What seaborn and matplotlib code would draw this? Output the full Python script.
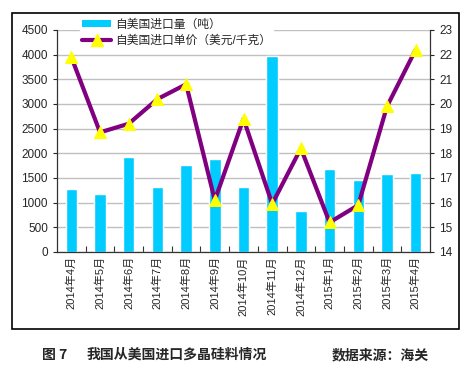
import matplotlib
matplotlib.use("Agg")
import matplotlib.pyplot as plt
import seaborn as sns
import pandas as pd
from matplotlib.patches import Rectangle, Patch
from matplotlib.lines import Line2D
from matplotlib.ticker import MultipleLocator, FixedLocator

sns.set_style("white")
plt.rcParams['font.family'] = ['Liberation Sans', 'Noto Sans CJK SC']

# data
months = ['2014年4月', '2014年5月', '2014年6月', '2014年7月', '2014年8月', '2014年9月',
          '2014年10月', '2014年11月', '2014年12月', '2015年1月', '2015年2月',
          '2015年3月', '2015年4月']
volume = [1270, 1180, 1930, 1315, 1755, 1880, 1312, 3965, 836, 1686, 1450, 1572, 1592]
price = [21.9, 18.85, 19.2, 20.2, 20.8, 16.1, 19.4, 15.95, 18.2, 15.2, 15.9, 19.9, 22.2]
vol_label = '自美国进口量（吨）'
price_label = '自美国进口单价（美元/千克）'

df = pd.DataFrame({'month': months, 'volume': volume, 'price': price})

fig = plt.figure(figsize=(4.66, 3.82), dpi=100)
ax = fig.add_axes([57/466, 1-252/382, 373/466, 222/382])

sns.barplot(data=df, x='month', y='volume', color='#00CCFF', saturation=1,
            width=0.4, ax=ax)
ax.set_ylim(0, 4500)
ax.yaxis.set_major_locator(MultipleLocator(500))
ax.set_axisbelow(True)
ax.grid(axis='y', color='#c0c0c0', linewidth=1)
ax.set_xlabel('')
ax.set_ylabel('')
ax.set_xlim(-0.5, len(months) - 0.5)
ax.tick_params(axis='x', rotation=90, labelsize=8, length=0, pad=3)
ax.tick_params(axis='y', labelsize=8.5, length=3, width=0.8, direction='out', left=True)
ax.xaxis.set_minor_locator(FixedLocator([i + 0.5 for i in range(len(months) - 1)]))
ax.tick_params(axis='x', which='minor', direction='in', length=4, width=0.8,
               bottom=True, color='#333333')
for s in ['left', 'bottom']:
    ax.spines[s].set_color('#333333')
    ax.spines[s].set_linewidth(0.9)
ax.spines['top'].set_visible(False)
ax.spines['right'].set_visible(False)

ax2 = ax.twinx()
sns.lineplot(data=df, x='month', y='price', sort=False, color='#800080', linewidth=3,
             marker='^', markersize=8, markerfacecolor='#FFFF00',
             markeredgecolor='#FFFF00', ax=ax2)
ax2.set_ylim(14, 23)
ax2.yaxis.set_major_locator(MultipleLocator(1))
ax2.set_ylabel('')
ax2.tick_params(axis='y', labelsize=8.5, length=3, width=0.8, direction='out', right=True)
ax2.spines['right'].set_color('#333333')
ax2.spines['right'].set_linewidth(0.9)
for s in ['left', 'top', 'bottom']:
    ax2.spines[s].set_visible(False)
ax2.set_xlim(-0.5, len(months) - 0.5)

handles = [Patch(facecolor='#00CCFF', edgecolor='none'),
           Line2D([], [], color='#800080', linewidth=3, marker='^', markersize=8,
                  markerfacecolor='#FFFF00', markeredgecolor='#FFFF00')]
leg = ax2.legend(handles, [vol_label, price_label], loc='upper left',
                 bbox_to_anchor=(80/466, 1-17/382), bbox_transform=fig.transFigure,
                 frameon=True, fancybox=False, framealpha=1, facecolor='white',
                 edgecolor='white', fontsize=8.5, handlelength=2.5, handleheight=0.5,
                 handletextpad=0.3, labelspacing=0.35, borderpad=0.15, borderaxespad=0)

# outer chart border
fig.patches.append(Rectangle((12/466, 1-329/382), 447/466, 316/382, transform=fig.transFigure,
                             fill=False, edgecolor='black', linewidth=1.2))

cap = dict(fontsize=10, fontweight='bold', family=['Noto Sans CJK SC'], va='center')
fig.text(42/466, 1-355/382, '图 7', **cap)
fig.text(87/466, 1-355/382, '我国从美国进口多晶硅料情况', **cap)
fig.text(332/466, 1-355/382, '数据来源：海关', **cap)

fig.savefig('out.png', dpi=100)
